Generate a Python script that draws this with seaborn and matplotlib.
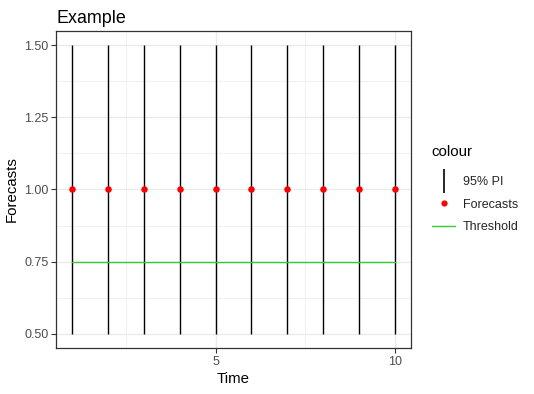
import matplotlib
matplotlib.use("Agg")
import matplotlib.pyplot as plt
from matplotlib.lines import Line2D
from matplotlib.ticker import FixedLocator
import seaborn as sns
import pandas as pd

# data
time = [1, 2, 3, 4, 5, 6, 7, 8, 9, 10]
forecasts = [1.0, 1.0, 1.0, 1.0, 1.0, 1.0, 1.0, 1.0, 1.0, 1.0]
lower = [0.5, 0.5, 0.5, 0.5, 0.5, 0.5, 0.5, 0.5, 0.5, 0.5]
upper = [1.5, 1.5, 1.5, 1.5, 1.5, 1.5, 1.5, 1.5, 1.5, 1.5]
threshold = [0.75, 0.75, 0.75, 0.75, 0.75, 0.75, 0.75, 0.75, 0.75, 0.75]
x_ticks = [5, 10]
y_ticks = [0.50, 0.75, 1.00, 1.25, 1.50]
y_tick_labels = ["0.50", "0.75", "1.00", "1.25", "1.50"]

df = pd.DataFrame({"Time": time, "Forecasts": forecasts, "lower": lower,
                   "upper": upper, "Threshold": threshold})

sns.set_theme(style="white")
plt.rcParams["font.family"] = ["Liberation Sans", "DejaVu Sans"]

fig = plt.figure(figsize=(5.34, 3.94), dpi=100)
ax = fig.add_axes([56 / 534, 46 / 394, 355 / 534, 317 / 394])
ax.set_facecolor("white")

# grid
ax.set_axisbelow(True)
ax.xaxis.set_major_locator(FixedLocator(x_ticks))
ax.xaxis.set_minor_locator(FixedLocator([2.5, 7.5]))
ax.yaxis.set_major_locator(FixedLocator(y_ticks))
ax.yaxis.set_minor_locator(FixedLocator([0.625, 0.875, 1.125, 1.375]))
ax.grid(which="major", color="#EBEBEB", linewidth=1.0)
ax.grid(which="minor", color="#EBEBEB", linewidth=0.5)
ax.tick_params(which="minor", length=0)

# PI
ax.vlines(df["Time"], df["lower"], df["upper"], color="black", linewidth=1.0, zorder=2)
sns.lineplot(data=df, x="Time", y="Threshold", ax=ax, color="#32CD32",
             linewidth=1.0, zorder=3, legend=False)
sns.scatterplot(data=df, x="Time", y="Forecasts", ax=ax, color="red",
                s=22, edgecolor="red", linewidth=0, zorder=4, legend=False)

ax.set_xlim(0.55, 10.45)
ax.set_ylim(0.45, 1.55)
ax.set_yticklabels(y_tick_labels)
ax.set_xticklabels([str(t) for t in x_ticks])

for s in ax.spines.values():
    s.set_color("#333333")
    s.set_linewidth(0.9)
    s.set_visible(True)
ax.tick_params(which="major", length=3.5, width=0.8, color="#333333",
               labelsize=9.0, labelcolor="#4D4D4D", pad=2, bottom=True, left=True)

ax.set_xlabel("Time", fontsize=10.8, color="black", labelpad=3)
ax.set_ylabel("Forecasts", fontsize=10.8, color="black", labelpad=4)
ax.set_title("Example", fontsize=12.9, color="black", loc="left", pad=6)

handles = [
    Line2D([], [], color="black", marker="|", linestyle="None", markersize=17, markeredgewidth=1.2),
    Line2D([], [], color="red", marker="o", linestyle="None", markersize=4.5, markeredgewidth=0),
    Line2D([], [], color="#32CD32", linewidth=1.0),
]
fig.text(431 / 534, 1 - 152 / 394, "colour", fontsize=10.8, color="black",
         ha="left", va="center")
leg = fig.legend(handles, ["95% PI", "Forecasts", "Threshold"],
                 loc="upper left", bbox_to_anchor=(432 / 534, 1 - 176 / 394),
                 frameon=False, fontsize=9.0,
                 handlelength=1.85, handletextpad=0.64, labelspacing=0.84,
                 borderaxespad=0, borderpad=0)

fig.savefig("out.png", dpi=100)
